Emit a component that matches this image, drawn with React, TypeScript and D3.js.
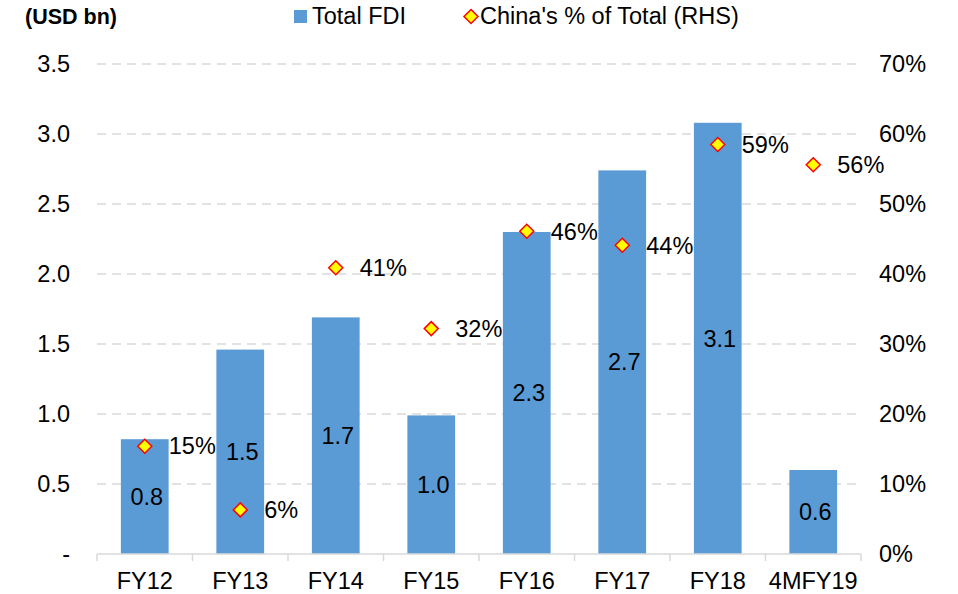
import { useEffect, useRef } from 'react';
import * as d3 from 'd3';

const categories = ['FY12', 'FY13', 'FY14', 'FY15', 'FY16', 'FY17', 'FY18', '4MFY19'];
const totalFdi = [0.82, 1.46, 1.69, 0.99, 2.3, 2.74, 3.08, 0.6];
const chinaShare = [15.4, 6.3, 40.9, 32.2, 46.1, 44.1, 58.5, 55.6];
const leftTicks = [0, 0.5, 1, 1.5, 2, 2.5, 3, 3.5];
const rightTicks = [0, 10, 20, 30, 40, 50, 60, 70];

const W = 958;
const H = 594;
const FONT = 'Liberation Sans, Arial, sans-serif';
const FS = 23.5;

export default function App() {
  const svgRef = useRef<SVGSVGElement>(null);

  useEffect(() => {
    if (!svgRef.current) return;
    const svg = d3.select(svgRef.current);
    svg.selectAll('*').remove();

    const left = 97;
    const right = 861;
    const top = 64;
    const bottom = 554;

    const x = d3.scaleBand<string>().domain(categories).range([left, right]).paddingInner(0.5).paddingOuter(0.25);
    const xb = d3.scaleBand<string>().domain(categories).range([left, right]);
    const y = d3.scaleLinear().domain([0, 3.5]).range([bottom, top]);
    const y2 = d3.scaleLinear().domain([0, 70]).range([bottom, top]);

    // gridlines
    svg.append('g')
      .selectAll('line')
      .data(leftTicks.filter(t => t > 0))
      .enter()
      .append('line')
      .attr('x1', left)
      .attr('x2', right)
      .attr('y1', d => y(d))
      .attr('y2', d => y(d))
      .attr('stroke', '#d9d9d9')
      .attr('stroke-width', 1.3)
      .attr('stroke-dasharray', '9,6');

    // left ticks
    svg.append('g')
      .selectAll('text')
      .data(leftTicks)
      .enter()
      .append('text')
      .attr('x', 70)
      .attr('y', d => y(d))
      .attr('dy', '0.35em')
      .attr('text-anchor', 'end')
      .attr('font-family', FONT)
      .attr('font-size', FS)
      .attr('fill', '#000')
      .text(d => (d === 0 ? '-' : d.toFixed(1)));

    // right ticks
    svg.append('g')
      .selectAll('text')
      .data(rightTicks)
      .enter()
      .append('text')
      .attr('x', 879)
      .attr('y', d => y2(d))
      .attr('dy', '0.35em')
      .attr('text-anchor', 'start')
      .attr('font-family', FONT)
      .attr('font-size', FS)
      .attr('fill', '#000')
      .text(d => `${d}%`);

    // bars
    svg.append('g')
      .selectAll('rect')
      .data(totalFdi)
      .enter()
      .append('rect')
      .attr('x', (d, i) => x(categories[i])!)
      .attr('y', d => y(d))
      .attr('width', x.bandwidth())
      .attr('height', d => bottom - y(d))
      .attr('fill', '#5b9bd5');

    // bar labels
    svg.append('g')
      .selectAll('text')
      .data(totalFdi)
      .enter()
      .append('text')
      .attr('x', (d, i) => x(categories[i])! + x.bandwidth() / 2 + 2)
      .attr('y', d => (y(d) + bottom) / 2)
      .attr('dy', '0.35em')
      .attr('text-anchor', 'middle')
      .attr('font-family', FONT)
      .attr('font-size', FS)
      .attr('fill', '#000')
      .text(d => d.toFixed(1));

    // x axis
    const axis = svg.append('g');
    axis.append('line')
      .attr('x1', left)
      .attr('x2', right)
      .attr('y1', bottom)
      .attr('y2', bottom)
      .attr('stroke', '#d9d9d9')
      .attr('stroke-width', 1.5);
    axis.selectAll('.tick')
      .data([...categories.map(c => xb(c)!), right])
      .enter()
      .append('line')
      .attr('x1', d => d)
      .attr('x2', d => d)
      .attr('y1', bottom)
      .attr('y2', bottom + 7)
      .attr('stroke', '#d9d9d9')
      .attr('stroke-width', 1.5);
    axis.selectAll('text')
      .data(categories)
      .enter()
      .append('text')
      .attr('x', d => xb(d)! + xb.bandwidth() / 2)
      .attr('y', 589)
      .attr('text-anchor', 'middle')
      .attr('font-family', FONT)
      .attr('font-size', FS)
      .attr('fill', '#000')
      .text(d => d);

    // markers
    const diamond = (cx: number, cy: number, r: number) =>
      `M${cx},${cy - r}L${cx + r},${cy}L${cx},${cy + r}L${cx - r},${cy}Z`;
    svg.append('g')
      .selectAll('path')
      .data(chinaShare)
      .enter()
      .append('path')
      .attr('d', (d, i) => diamond(xb(categories[i])! + xb.bandwidth() / 2, y2(d), 7))
      .attr('fill', '#ffff00')
      .attr('stroke', '#ff0000')
      .attr('stroke-width', 1.5);

    svg.append('g')
      .selectAll('text')
      .data(chinaShare)
      .enter()
      .append('text')
      .attr('x', (d, i) => xb(categories[i])! + xb.bandwidth() / 2 + 24)
      .attr('y', d => y2(d))
      .attr('dy', '0.35em')
      .attr('font-family', FONT)
      .attr('font-size', FS)
      .attr('fill', '#000')
      .text(d => `${Math.round(d)}%`);

    // unit label
    svg.append('text')
      .attr('x', 25)
      .attr('y', 24)
      .attr('font-family', FONT)
      .attr('font-size', 21.5)
      .attr('font-weight', 'bold')
      .attr('fill', '#000')
      .text('(USD bn)');

    // legend
    const lg = svg.append('g');
    lg.append('rect').attr('x', 294).attr('y', 10).attr('width', 13).attr('height', 13).attr('fill', '#5b9bd5');
    lg.append('text')
      .attr('x', 312)
      .attr('y', 24)
      .attr('font-family', FONT)
      .attr('font-size', FS)
      .attr('fill', '#000')
      .text('Total FDI');
    lg.append('path')
      .attr('d', diamond(471, 16.5, 7))
      .attr('fill', '#ffff00')
      .attr('stroke', '#ff0000')
      .attr('stroke-width', 1.5);
    lg.append('text')
      .attr('x', 480)
      .attr('y', 24)
      .attr('font-family', FONT)
      .attr('font-size', FS)
      .attr('fill', '#000')
      .text("China's % of Total (RHS)");
  }, []);

  return (
    <div style={{ position: 'absolute', left: 0, top: 0 }}>
      <svg ref={svgRef} width={W} height={H} style={{ display: 'block', background: '#fff' }} />
    </div>
  );
}
